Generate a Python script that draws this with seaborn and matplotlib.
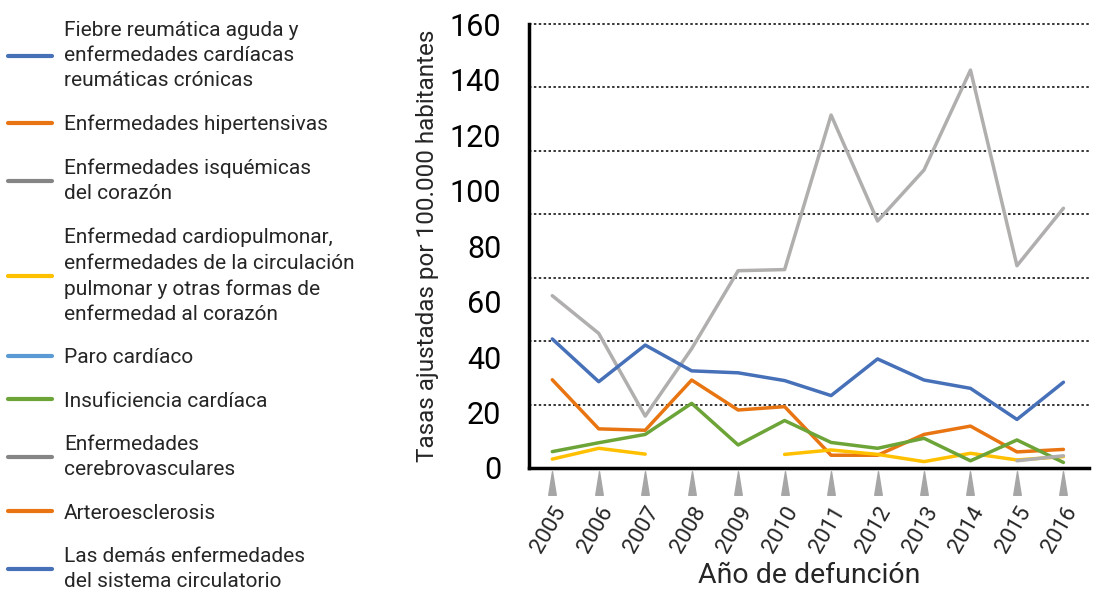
import numpy as np
import pandas as pd
import matplotlib
matplotlib.use("Agg")
import matplotlib.pyplot as plt
from matplotlib.lines import Line2D
from matplotlib.path import Path
import seaborn as sns

nan = np.nan
years = [2005, 2006, 2007, 2008, 2009, 2010, 2011, 2012, 2013, 2014, 2015, 2016]

causes = [
    "Fiebre reumática aguda y\nenfermedades cardíacas\nreumáticas crónicas",
    "Enfermedades hipertensivas",
    "Enfermedades isquémicas\ndel corazón",
    "Enfermedad cardiopulmonar,\nenfermedades de la circulación\npulmonar y otras formas de\nenfermedad al corazón",
    "Paro cardíaco",
    "Insuficiencia cardíaca",
    "Enfermedades\ncerebrovasculares",
    "Arteroesclerosis",
    "Las demás enfermedades\ndel sistema circulatorio",
]

# tasas por causa (sin dato = nan)
fiebre = [nan, nan, nan, nan, nan, nan, nan, nan, nan, nan, nan, nan]
hipertensivas = [31.8, 14.1, 13.6, 31.7, 20.9, 22.1, 4.6, 4.6, 12.1, 15.1, 5.8, 6.7]
isquemicas = [62.1, 48.5, 18.7, 43.0, 71.1, 71.5, 127.2, 89.0, 107.4, 143.4, 72.9, 93.6]
cardiopulmonar = [3.2, 7.1, 5.0, nan, nan, 4.9, 6.5, 4.9, 2.3, 5.3, 2.9, 4.1]
paro = [nan, nan, nan, nan, nan, nan, nan, nan, nan, nan, nan, nan]
insuficiencia = [5.9, 9.1, 12.1, 23.3, 8.3, 17.1, 9.2, 7.1, 10.7, 2.6, 10.1, 2.0]
cerebro = [nan, nan, nan, nan, nan, nan, nan, nan, nan, nan, 2.6, 4.4]
arterio = [nan, nan, nan, nan, nan, nan, nan, nan, nan, nan, nan, nan]
demas = [46.5, 31.1, 44.3, 35.0, 34.3, 31.5, 26.1, 39.3, 31.7, 28.7, 17.5, 30.9]

line_colors = ["#4670b8", "#e87511", "#b1aeae", "#ffc000", "#5b9bd5",
               "#6ca437", "#b1aeae", "#e87511", "#4670b8"]
legend_colors = ["#4670b8", "#e87511", "#858585", "#ffc000", "#5b9bd5",
                 "#6ca437", "#858585", "#e87511", "#4670b8"]

series = [fiebre, hipertensivas, isquemicas, cardiopulmonar, paro,
          insuficiencia, cerebro, arterio, demas]

rows = []
for cause, vals in zip(causes, series):
    seg = 0
    for yr, v in zip(years, vals):
        if np.isnan(v):
            seg += 1
            continue
        rows.append({"cause": cause, "year": yr, "rate": v, "seg": seg})
df = pd.DataFrame(rows)

sns.set_style("white")
plt.rcParams['font.family'] = ['Roboto', 'DejaVu Sans']

fig = plt.figure(figsize=(10.96, 5.93), dpi=100)
ax = fig.add_axes([0.4827, 0.2108, 0.5109, 0.7487])

for cause, col in zip(causes, line_colors):
    sub = df[df["cause"] == cause]
    if sub.empty:
        continue
    sns.lineplot(data=sub, x="year", y="rate", units="seg", estimator=None,
                 color=col, linewidth=2.5, ax=ax, legend=False)

ax.set_xlim(2004.5, 2016.55)
ax.set_ylim(0, 160)
ax.yaxis.remove_overlapping_locs = False
ax.set_yticks(range(0, 161, 20))
ax.set_yticks(np.linspace(0, 160, 8), minor=True)
ax.yaxis.grid(True, which="minor", color="black", linestyle=(0, (1.6, 1.6)), linewidth=1.1)
for tk in ax.yaxis.get_minor_ticks():
    tk.gridline.set_clip_on(False)
ax.tick_params(axis="y", which="major", length=18, width=2.3, labelsize=22, pad=2, colors="black")
ax.tick_params(axis="y", which="minor", length=0)
ax.set_xticks(years)
ax.set_xticklabels(years, rotation=60, ha="right", rotation_mode="anchor")
ax.tick_params(axis="x", length=0, pad=25, labelsize=16)

for s in ["top", "right"]:
    ax.spines[s].set_visible(False)
for s in ["left", "bottom"]:
    ax.spines[s].set_linewidth(2.5)
    ax.spines[s].set_color("black")

# triangulitos grises bajo cada año
tri = Path([(-0.32, -1), (0.32, -1), (0, 1), (-0.32, -1)],
           [Path.MOVETO, Path.LINETO, Path.LINETO, Path.CLOSEPOLY])
ax.plot(years, np.full(len(years), -0.034), transform=ax.get_xaxis_transform(),
        ls="none", marker=tri, ms=17, color="#a6a6a6", clip_on=False)

ax.set_ylabel("Tasas ajustadas por 100.000 habitantes", fontsize=17.5, labelpad=8)
ax.set_xlabel("Año de defunción", fontsize=20.5, labelpad=4)

handles = [Line2D([0], [0], color=c, lw=3) for c in legend_colors]
leg = fig.legend(handles, causes, loc="upper left", bbox_to_anchor=(0.0073, 0.965),
                 frameon=False, borderpad=0, borderaxespad=0,
                 handlelength=2.1, handletextpad=0.58, labelspacing=1.17,
                 prop={"family": ["Roboto"], "size": 15})
for t in leg.get_texts():
    t.set_linespacing(1.42)

fig.savefig("out.png", dpi=100)
